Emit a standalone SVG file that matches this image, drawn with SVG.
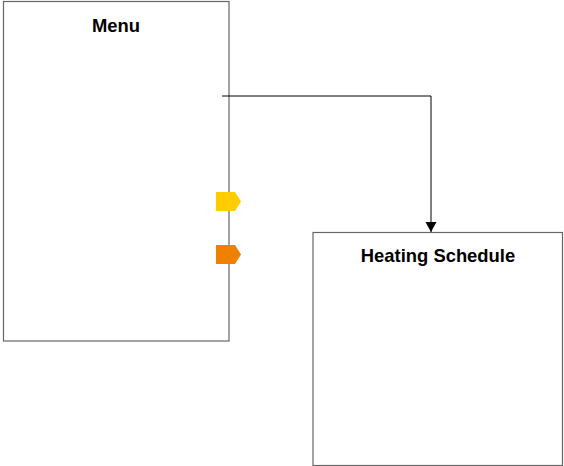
<svg xmlns="http://www.w3.org/2000/svg" width="564" height="466" viewBox="0 0 564 466">
<style>
.box{fill:#fff;stroke:#666;stroke-width:1.2}
.title{font-family:"Liberation Sans",Arial,sans-serif;font-weight:bold;font-size:18.4px;fill:#000;text-anchor:middle}
.conn{fill:none;stroke:#000;stroke-width:1}
</style>
<defs>
<marker id="arr" markerWidth="12" markerHeight="12" refX="10" refY="5.5" orient="auto" markerUnits="userSpaceOnUse">
<path d="M0,0 L10,5.5 L0,11 Z" fill="#000"/>
</marker>
</defs>
<rect width="564" height="466" fill="#fff"/>
<g id="menu">
<rect class="box" x="3.5" y="1.5" width="225.5" height="339.5"/>
<text class="title" x="116" y="31.5">Menu</text>
</g>
<g id="heating-schedule">
<rect class="box" x="313" y="232.5" width="249.5" height="233"/>
<text class="title" x="438" y="261.5">Heating Schedule</text>
</g>
<g id="connectors">
<path class="conn" d="M222,96 H431 V232" marker-end="url(#arr)"/>
</g>
<g id="tag-yellow">
<path d="M216,192 H235 L241,201.5 L235,211 H216 Z" fill="#FFCC00"/>
</g>
<g id="tag-orange">
<path d="M216,245 H235 L241,254.5 L235,264 H216 Z" fill="#F08000"/>
</g>
</svg>
